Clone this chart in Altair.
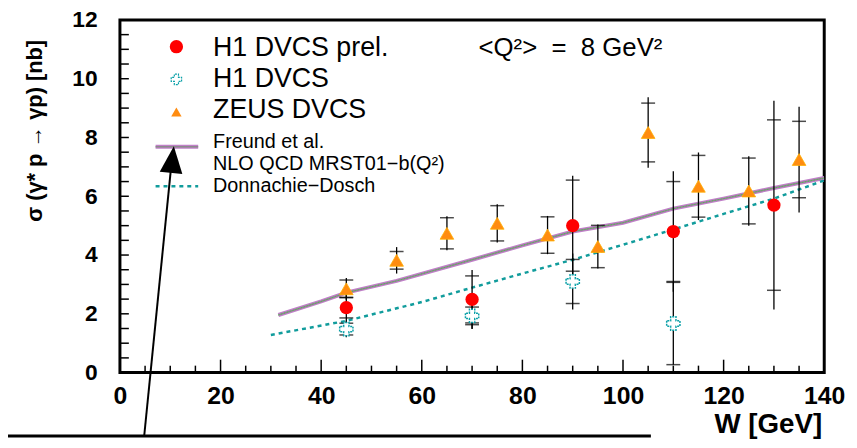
import altair as alt
import pandas as pd

# ---------------- data ----------------
h1p_w = [45, 70, 90, 110, 130]
h1p_y = [2.21, 2.49, 5.0, 4.8, 5.7]
h1p_stat = [0.35, 0.8, 1.55, 1.7, 2.9]
h1p_tot = [0.6, 1.0, 1.7, 2.05, 3.55]

h1_w = [45, 70, 90, 110]
h1_y = [1.48, 1.93, 3.1, 1.67]
h1_stat = [0.2, 0.3, 0.75, 1.4]
h1_tot = [0.28, 0.45, 0.95, 1.4]

zeus_w = [45, 55, 65, 75, 85, 95, 105, 115, 125, 135]
zeus_y = [2.85, 3.82, 4.74, 5.08, 4.68, 4.29, 8.17, 6.34, 6.18, 7.25]
zeus_stat = [0.3, 0.3, 0.53, 0.6, 0.62, 0.72, 1.0, 1.05, 1.12, 1.3]
zeus_tot = [0.37, 0.45, 0.58, 0.65, 0.65, 0.75, 1.2, 1.15, 1.18, 1.8]

freund_w = [31.5, 40, 45, 55, 70, 80, 90, 100, 110, 120, 130, 140]
freund_y = [1.96, 2.42, 2.72, 3.12, 3.84, 4.33, 4.8, 5.1, 5.58, 5.92, 6.28, 6.62]

dd_w = [30, 45, 60, 70, 80, 90, 100, 110, 120, 130, 140]
dd_y = [1.28, 1.76, 2.4, 2.89, 3.37, 3.84, 4.35, 4.87, 5.4, 5.92, 6.54]

x_labels = [0, 20, 40, 60, 80, 100, 120, 140]
y_labels = [0, 2, 4, 6, 8, 10, 12]
x_minor = [v for v in range(5, 140, 5) if v % 20 != 0]
x_major = [20, 40, 60, 80, 100, 120]
y_minor = [v / 2 for v in range(1, 24)]

legend_labels = ["H1 DVCS prel.", "H1 DVCS", "ZEUS DVCS"]
theory_labels = ["Freund et al.", "NLO QCD MRST01\u2212b(Q\u00b2)", "Donnachie\u2212Dosch"]
q2_label = "<Q\u00b2>\u00a0\u00a0=\u00a0\u00a08\u00a0GeV\u00b2"
y_title = "\u03c3 (\u03b3* p \u2192 \u03b3p)  [nb]"
x_title = "W [GeV]"

# ---------------- tables ----------------
def pts(w, y, s, t):
    return pd.DataFrame({
        "w": w, "y": y,
        "lo_s": [a - b for a, b in zip(y, s)], "hi_s": [a + b for a, b in zip(y, s)],
        "lo_t": [a - b for a, b in zip(y, t)], "hi_t": [a + b for a, b in zip(y, t)],
    })

d_h1p = pts(h1p_w, h1p_y, h1p_stat, h1p_tot)
d_h1 = pts(h1_w, h1_y, h1_stat, h1_tot)
d_zeus = pts(zeus_w, zeus_y, zeus_stat, zeus_tot)
d_all = pd.concat([d_zeus, d_h1p, d_h1], ignore_index=True)
d_fr = pd.DataFrame({"w": freund_w, "y": freund_y})
d_dd = pd.DataFrame({"w": dd_w, "y": dd_y})

W, H = 711, 356
FONT = "Liberation Sans"

xs = alt.Scale(domain=[0, 140], nice=False, zero=False)
ys = alt.Scale(domain=[0, 12], nice=False, zero=False)
xaxis = alt.Axis(values=x_labels, title=None, ticks=False, domain=False, grid=False,
                 labelFont=FONT, labelFontWeight="bold", labelFontSize=25,
                 labelPadding=11, labelColor="black", labelFlush=False)
yaxis = alt.Axis(values=y_labels, title=None, ticks=False, domain=False, grid=False,
                 labelFont=FONT, labelFontWeight="bold", labelFontSize=23,
                 labelPadding=23, labelColor="black", labelFlush=False)

def X(field="w"):
    return alt.X(f"{field}:Q", scale=xs, axis=xaxis)

def Y(field="y"):
    return alt.Y(f"{field}:Q", scale=ys, axis=yaxis)

# axis ticks (inside)
tx_minor = alt.Chart(pd.DataFrame({"w": x_minor})).mark_rule(color="black", strokeWidth=1.5).encode(
    x=X(), y=alt.value(H), y2=alt.value(H - 7))
tx_major = alt.Chart(pd.DataFrame({"w": x_major})).mark_rule(color="black", strokeWidth=1.5).encode(
    x=X(), y=alt.value(H), y2=alt.value(H - 13))
ty = alt.Chart(pd.DataFrame({"y": y_minor})).mark_rule(color="black", strokeWidth=1.5).encode(
    y=Y(), x=alt.value(0), x2=alt.value(9))

# error bars
err = alt.Chart(d_all).mark_rule(color="black", strokeWidth=1.3).encode(
    x=X(), y=Y("lo_t"), y2="hi_t")
cap_lo = alt.Chart(d_all).mark_tick(color="black", orient="horizontal", size=14, thickness=1.5).encode(
    x=X(), y=Y("lo_s"))
cap_hi = alt.Chart(d_all).mark_tick(color="black", orient="horizontal", size=14, thickness=1.5).encode(
    x=X(), y=Y("hi_s"))

# theory curves
fr_base = alt.Chart(d_fr).mark_line(color="#c080c8", strokeWidth=4, clip=True).encode(x=X(), y=Y())
fr_top = alt.Chart(d_fr).mark_line(color="#8a8a8a", strokeWidth=1.5, clip=True).encode(x=X(), y=Y())
fr_green = alt.Chart(d_fr).mark_line(color="#44cc44", strokeWidth=1, strokeDash=[1, 2], clip=True).encode(x=X(), y=Y())
dd_line = alt.Chart(d_dd).mark_line(color="#119c9c", strokeWidth=2.5, strokeDash=[4, 4], clip=True).encode(x=X(), y=Y())

# markers
m_zeus = alt.Chart(d_zeus).mark_point(shape="triangle-up", filled=True, fill="#ff8c10", stroke="#ffb000",
                                       strokeWidth=0.8, size=190, opacity=1).encode(x=X(), y=Y())
m_h1p = alt.Chart(d_h1p).mark_point(shape="circle", filled=True, fill="#ff0000", size=180, opacity=1).encode(x=X(), y=Y())
m_h1 = alt.Chart(d_h1).mark_point(shape="cross", filled=True, fill="white", stroke="#0aa0a8",
                                  strokeWidth=1.5, strokeDash=[2, 1], size=180, opacity=1).encode(x=X(), y=Y())

# legend / annotations
one = pd.DataFrame({"k": [0]})
def txt(s, x, y, size, weight="normal", align="left", angle=0):
    return alt.Chart(one).mark_text(text=s, font=FONT, fontSize=size, fontWeight=weight, align=align,
                                    baseline="middle", color="black", angle=angle).encode(
        x=alt.value(x), y=alt.value(y))

leg = [
    alt.Chart(one).mark_point(shape="circle", filled=True, fill="#ff0000", size=180, opacity=1).encode(
        x=alt.value(57), y=alt.value(27)),
    alt.Chart(one).mark_point(shape="cross", filled=True, fill="white", stroke="#0aa0a8", strokeWidth=1.2,
                              strokeDash=[2, 1], size=110, opacity=1).encode(x=alt.value(57), y=alt.value(60)),
    alt.Chart(one).mark_point(shape="triangle-up", filled=True, fill="#ff8c10", size=110, opacity=1).encode(
        x=alt.value(57), y=alt.value(93)),
    txt(legend_labels[0], 94, 28, 27),
    txt(legend_labels[1], 94, 60, 27),
    txt(legend_labels[2], 94, 91, 27),
    txt(theory_labels[0], 94, 123, 20),
    txt(theory_labels[1], 94, 145, 20),
    txt(theory_labels[2], 94, 168, 20),
    alt.Chart(one).mark_rule(color="#c080c8", strokeWidth=4).encode(x=alt.value(36), x2=alt.value(79), y=alt.value(128)),
    alt.Chart(one).mark_rule(color="#8a8a8a", strokeWidth=1.5).encode(x=alt.value(36), x2=alt.value(79), y=alt.value(128)),
    alt.Chart(one).mark_rule(color="#119c9c", strokeWidth=2.5, strokeDash=[4, 4]).encode(
        x=alt.value(36), x2=alt.value(79), y=alt.value(168)),
    txt(q2_label, 362, 28, 26),
    txt(y_title, -86, 112, 22, weight="bold", align="center", angle=270),
    txt(x_title, 709, 409, 28, weight="bold", align="right"),
    # arrow annotation
    alt.Chart(one).mark_rule(color="black", strokeWidth=2).encode(
        x=alt.value(24.5), y=alt.value(420), x2=alt.value(51.5), y2=alt.value(150)),
    alt.Chart(one).mark_point(shape="M0,-1L0.85,1L-0.85,1Z", filled=True, fill="black", size=729,
                              angle=6, opacity=1).encode(x=alt.value(53), y=alt.value(141)),
    alt.Chart(one).mark_rule(color="black", strokeWidth=3).encode(
        x=alt.value(-113), x2=alt.value(536), y=alt.value(420)),
]

chart = alt.layer(
    tx_minor, tx_major, ty,
    fr_base, fr_top, fr_green, dd_line,
    err, cap_lo, cap_hi,
    m_zeus, m_h1, m_h1p,
    *leg,
).properties(
    width=W, height=H,
    padding={"left": 113, "top": 10, "right": 25, "bottom": 66},
    autosize=alt.AutoSizeParams(type="none"),
    background="white",
).configure_view(stroke="black", strokeWidth=3)

chart.save("out.html", embed_options={"renderer": "svg", "actions": False})
